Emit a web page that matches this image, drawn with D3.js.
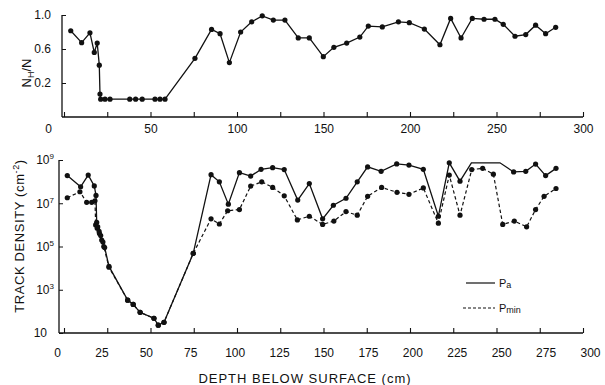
<!DOCTYPE html>
<html>
<head>
<meta charset="utf-8">
<script src="https://cdn.jsdelivr.net/npm/d3@7"></script>
<style>
  html, body { margin: 0; padding: 0; background: #fff; }
  svg { display: block; font-family: "Liberation Sans", Arial, sans-serif; }
</style>
</head>
<body>
<svg id="chart" width="605" height="385"></svg>
<script>
// ---------- DATA ----------
// Upper panel: fraction N_H/N vs depth (cm)
const depthTop = [3.9, 10.2, 15, 17.5, 19.2, 20.4, 20.8, 21.2, 23.7, 26.6, 38, 41.4, 45.2, 52.6, 55.5, 58.4,
  75.7, 85.3, 90.2, 95.6, 102.1, 108.5, 114.6, 121, 127.7, 135.4, 141.8, 149.9, 156, 163.4, 171, 175.9,
  184, 193.3, 199.6, 208.3, 217.3, 223.5, 229.5, 236, 242.8, 249.1, 253.9, 260.7, 266.9, 272.6, 278.4, 284.2];
const nhFraction = [0.815, 0.675, 0.79, 0.56, 0.67, 0.41, 0.07, 0.01, 0.01, 0.01, 0.01, 0.01, 0.01, 0.01, 0.01, 0.01,
  0.49, 0.83, 0.78, 0.44, 0.80, 0.92, 0.99, 0.94, 0.94, 0.73, 0.73, 0.51, 0.62, 0.67, 0.74, 0.87,
  0.86, 0.92, 0.91, 0.835, 0.65, 0.96, 0.73, 0.96, 0.95, 0.95, 0.89, 0.75, 0.77, 0.88, 0.78, 0.855];

// Lower panel: track density (cm^-2), series Pa (solid) and Pmin (dashed)
const depthPa = [1.9, 9.6, 14, 17.5, 18.5, 18.9, 19.5, 20.3, 21.2, 22.5, 23.5, 26, 36.8, 40, 44, 52, 54.5, 57.8,
  74.7, 85, 89.8, 95, 101.4, 107.9, 113.9, 120.6, 127.3, 135.1, 141.8, 149.5, 155.7, 163, 169.5, 175.5, 183.3, 192.3,
  199.4, 207.7, 216.4, 222.7, 228.9, 235.5, 252, 259.9, 266.9, 272.6, 278.4, 284.4];
const densityPa = [1.9e8, 5.8e7, 2.0e8, 6.3e7, 2.3e7, 1.3e6, 8e5, 5e5, 3.2e5, 1.6e5, 9e4, 1.2e4, 330, 210, 90, 48, 23, 31,
  4.8e4, 2.1e8, 9.8e7, 9.1e6, 2.6e8, 1.8e8, 3.7e8, 4.4e8, 3.6e8, 1.4e7, 8.1e7, 1.9e6, 8.1e6, 1.7e7, 9.8e7, 4.8e8, 3.0e8, 6.6e8,
  5.8e8, 3.7e8, 2.5e6, 7.4e8, 1.05e8, 7.4e8, 7.4e8, 2.8e8, 3.0e8, 6.5e8, 1.9e8, 4.1e8];
// depths of Pa vertices drawn without a dot (ends of the flat stretch)
const paUnmarked = [235.5, 252];

const depthPmin = [1.9, 9.2, 13.1, 16, 17.9, 18.3, 19.2, 20.5, 21.8, 23, 26, 36.8, 40, 44, 52, 54.5, 57.8,
  74.7, 85, 89.8, 94.6, 101.4, 107.9, 114.3, 120.6, 127.3, 134.9, 141.8, 149.5, 156, 163, 169.5, 175.5, 183.6, 192.5,
  199.4, 207.7, 216.4, 222.7, 228.9, 235.7, 242, 248.2, 253.6, 260.3, 267.4, 272.6, 277.5, 284.4];
const densityPmin = [1.8e7, 3.4e7, 1.1e7, 1.1e7, 1.3e7, 1.0e6, 7e5, 4e5, 2e5, 1e5, 1.1e4, 330, 210, 90, 48, 23, 31,
  4.8e4, 1.9e6, 1.1e6, 4.5e6, 5.1e6, 6.2e7, 9.8e7, 5.4e7, 2.2e7, 1.7e6, 2.5e6, 1.05e6, 1.5e6, 4.1e6, 2.8e6, 2.1e7, 5.4e7, 3.2e7,
  2.6e7, 5.1e7, 1.2e6, 2.0e8, 2.8e6, 3.6e8, 4.1e8, 2.2e8, 1.05e6, 1.5e6, 8.1e5, 5.1e6, 2.1e7, 4.8e7];

const xTickValues = [0, 25, 50, 75, 100, 125, 150, 175, 200, 225, 250, 275, 300];
const topYTicks = [0.2, 0.6, 1.0];
const bottomYTicks = [1e1, 1e3, 1e5, 1e7, 1e9];

// ---------- DRAW ----------
const svg = d3.select("#chart");
const ink = "#111";

const x = d3.scaleLinear().domain([0, 300]).range([64, 583]);
const yTop = d3.scaleLinear().domain([-0.2, 1.0]).range([117, 15]);
const yBot = d3.scaleLog().domain([10, 1e9]).range([333, 160]);
// label positions of lower axis as printed (slightly spread vs ticks)
const xLabBot = d3.scaleLinear().domain([0, 300]).range([57, 590]);

const topAxisX = 62, botAxisX = 59;

function axisLine(x1, y1, x2, y2) {
  svg.append("line").attr("x1", x1).attr("y1", y1).attr("x2", x2).attr("y2", y2)
    .attr("stroke", ink).attr("stroke-width", 1.3);
}

// ---- Top panel axes ----
axisLine(topAxisX, yTop(1.0), topAxisX, yTop(-0.2));
axisLine(topAxisX, yTop(-0.2), x(300), yTop(-0.2));
const gTopX = svg.append("g").attr("transform", `translate(0,${yTop(-0.2)})`)
  .call(d3.axisBottom(x).tickValues(xTickValues).tickSizeInner(-5).tickSizeOuter(0).tickPadding(7)
    .tickFormat(d => d % 50 === 0 ? d : ""));
gTopX.select(".domain").remove();
gTopX.selectAll(".tick line").attr("stroke", ink).attr("stroke-width", 1.1);
gTopX.selectAll("text").attr("font-size", 12).attr("fill", ink)
  .attr("dx", d => d === 0 ? -16 : 0);

const gTopY = svg.append("g").attr("transform", `translate(${topAxisX},0)`)
  .call(d3.axisLeft(yTop).tickValues(topYTicks).tickSizeInner(-4).tickSizeOuter(0).tickPadding(11)
    .tickFormat(d3.format(".1f")));
gTopY.select(".domain").remove();
gTopY.selectAll(".tick line").attr("stroke", ink);
gTopY.selectAll("text").attr("font-size", 12).attr("fill", ink);

// ---- Top panel data ----
const topPts = depthTop.map((d, i) => [d, nhFraction[i]]);
svg.append("path").datum(topPts)
  .attr("d", d3.line().x(d => x(d[0])).y(d => yTop(d[1])))
  .attr("fill", "none").attr("stroke", ink).attr("stroke-width", 1.3);
svg.append("g").selectAll("circle").data(topPts).join("circle")
  .attr("cx", d => x(d[0])).attr("cy", d => yTop(d[1])).attr("r", 2.6).attr("fill", ink);

// ---- Bottom panel axes ----
axisLine(botAxisX, yBot(1e9), botAxisX, yBot(10));
axisLine(botAxisX, yBot(10), x(300), yBot(10));
const gBotX = svg.append("g").attr("transform", `translate(0,${yBot(10)})`)
  .call(d3.axisBottom(x).tickValues(xTickValues).tickSizeInner(-5).tickSizeOuter(0).tickPadding(15));
gBotX.select(".domain").remove();
gBotX.selectAll(".tick line").attr("stroke", ink).attr("stroke-width", 1.1);
gBotX.selectAll("text").attr("font-size", 12).attr("fill", ink)
  .attr("dx", d => xLabBot(d) - x(d));

const gBotY = svg.append("g").attr("transform", `translate(${botAxisX},0)`)
  .call(d3.axisLeft(yBot).tickValues(bottomYTicks).tickSizeInner(-4).tickSizeOuter(0).tickPadding(5)
    .tickFormat(() => ""));
gBotY.select(".domain").remove();
gBotY.selectAll(".tick line").attr("stroke", ink);
gBotY.selectAll(".tick").each(function (d) {
  const t = d3.select(this).select("text").attr("font-size", 12).attr("fill", ink).text(null);
  const e = Math.round(Math.log10(d));
  if (e === 1) {
    t.attr("dx", -7).text("10");
  } else {
    t.append("tspan").text("10");
    t.append("tspan").attr("font-size", 8).attr("dy", -5).text(e);
  }
});

// ---- Bottom panel data ----
const paPts = depthPa.map((d, i) => [d, densityPa[i]]);
const pminPts = depthPmin.map((d, i) => [d, densityPmin[i]]);
const lineBot = d3.line().x(d => x(d[0])).y(d => yBot(d[1]));

svg.append("path").datum(pminPts).attr("d", lineBot)
  .attr("fill", "none").attr("stroke", ink).attr("stroke-width", 1.2).attr("stroke-dasharray", "3.5,2.5");
svg.append("path").datum(paPts).attr("d", lineBot)
  .attr("fill", "none").attr("stroke", ink).attr("stroke-width", 1.3);

svg.append("g").selectAll("circle").data(pminPts).join("circle")
  .attr("cx", d => x(d[0])).attr("cy", d => yBot(d[1])).attr("r", 2.6).attr("fill", ink);
svg.append("g").selectAll("circle").data(paPts.filter(d => !paUnmarked.includes(d[0]))).join("circle")
  .attr("cx", d => x(d[0])).attr("cy", d => yBot(d[1])).attr("r", 2.6).attr("fill", ink);

// ---- Legend ----
const leg = svg.append("g");
leg.append("line").attr("x1", 466).attr("x2", 495).attr("y1", 283).attr("y2", 283)
  .attr("stroke", ink).attr("stroke-width", 1.2);
leg.append("line").attr("x1", 463).attr("x2", 495).attr("y1", 308).attr("y2", 308)
  .attr("stroke", ink).attr("stroke-width", 1.1).attr("stroke-dasharray", "3,2");
const t1 = leg.append("text").attr("x", 499).attr("y", 287).attr("font-size", 11).attr("fill", ink);
t1.append("tspan").text("P");
t1.append("tspan").attr("font-size", 9).attr("dy", 1).text("a");
const t2 = leg.append("text").attr("x", 499).attr("y", 312).attr("font-size", 11).attr("fill", ink);
t2.append("tspan").text("P");
t2.append("tspan").attr("font-size", 9).attr("dy", 1).text("min");

// ---- Axis titles ----
const ty = svg.append("text").attr("transform", "translate(31,73) rotate(-90)")
  .attr("text-anchor", "middle").attr("font-size", 13).attr("fill", ink);
ty.append("tspan").text("N");
ty.append("tspan").attr("font-size", 9).attr("dy", 3).text("H");
ty.append("tspan").attr("dy", -3).text("/N");

const tb = svg.append("text").attr("transform", "translate(24,236) rotate(-90)")
  .attr("text-anchor", "middle").attr("font-size", 13).attr("letter-spacing", 0.6).attr("fill", ink);
tb.append("tspan").text("TRACK DENSITY (cm");
tb.append("tspan").attr("font-size", 9).attr("dy", -5).text("-2");
tb.append("tspan").attr("dy", 5).text(")");

svg.append("text").attr("x", 305).attr("y", 383).attr("text-anchor", "middle")
  .attr("font-size", 13).attr("letter-spacing", 1).attr("fill", ink)
  .text("DEPTH BELOW SURFACE (cm)");
</script>
</body>
</html>
